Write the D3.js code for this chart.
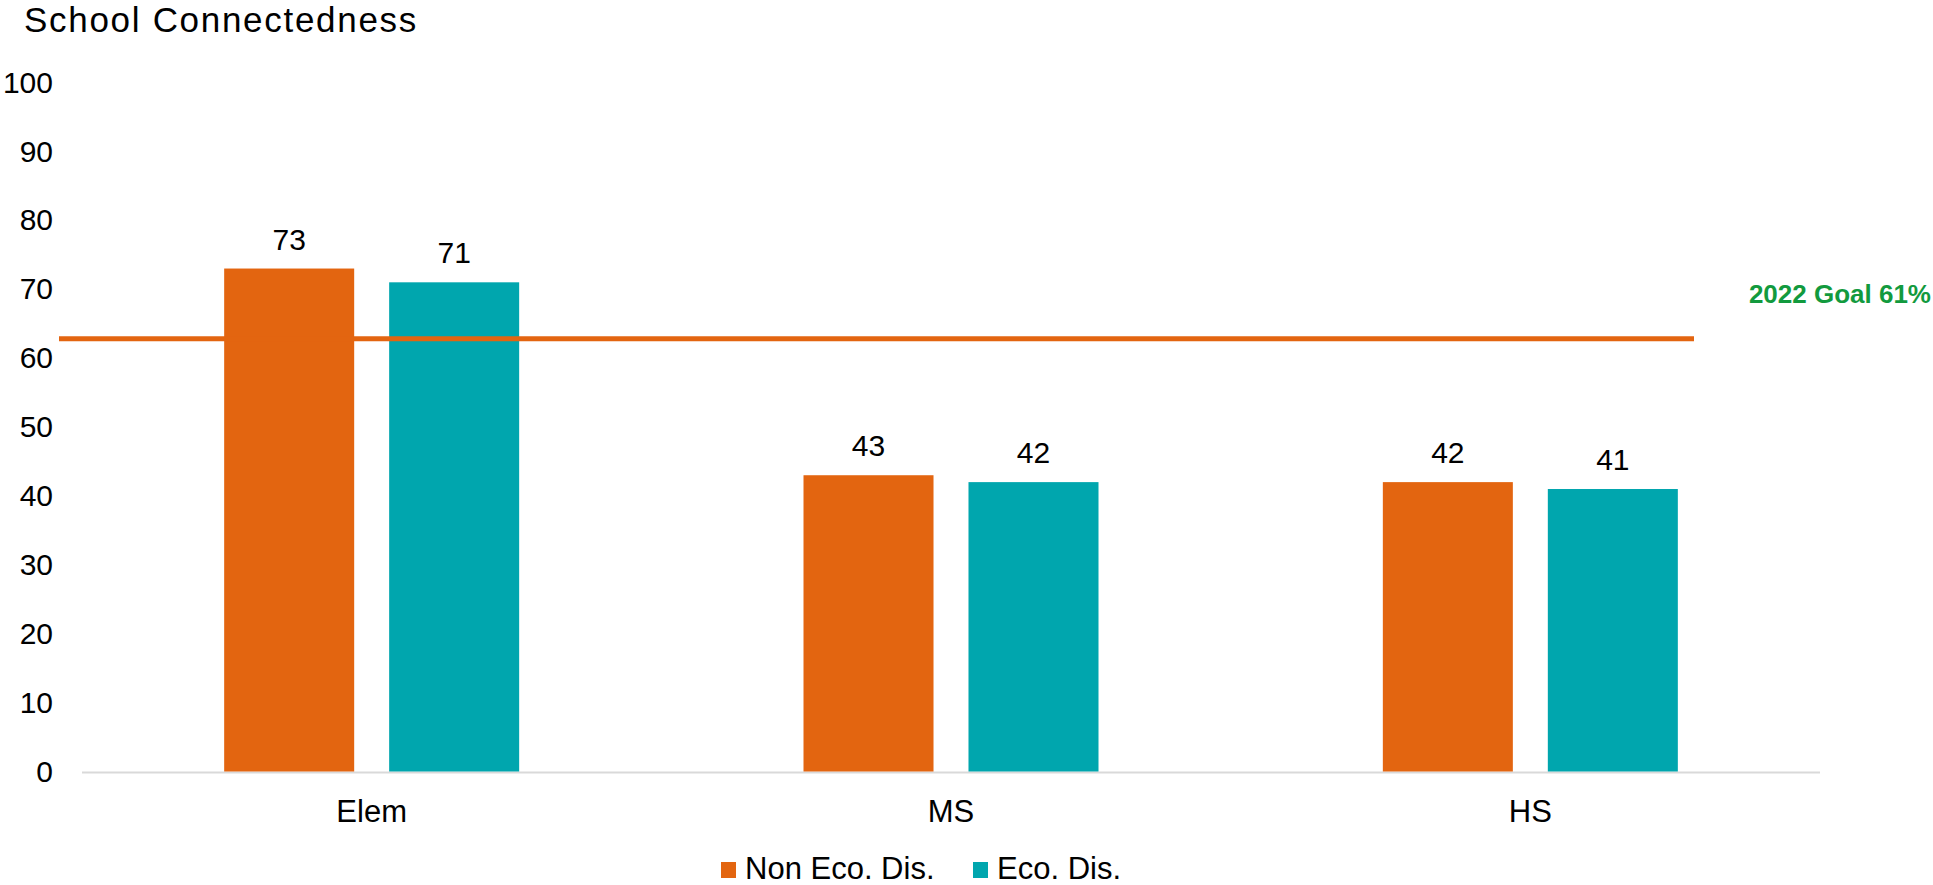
<!DOCTYPE html>
<html>
<head>
<meta charset="utf-8">
<script src="https://cdn.jsdelivr.net/npm/d3@7"></script>
<style>
  html, body { margin: 0; padding: 0; background: #ffffff; }
  svg { display: block; font-family: "Liberation Sans", Arial, sans-serif; }
</style>
</head>
<body>
<svg id="chart" width="1933" height="885"></svg>
<script>
// ---- data ----
const categories = ["Elem", "MS", "HS"];
const seriesNames = ["Non Eco. Dis.", "Eco. Dis."];
const nonEcoDis = [73, 43, 42];
const ecoDis = [71, 42, 41];
const yTicks = [0, 10, 20, 30, 40, 50, 60, 70, 80, 90, 100];
const goalLabel = "2022 Goal 61%";
const goalLineValue = 62.8;
const chartTitle = "School Connectedness";

const seriesValues = [nonEcoDis, ecoDis];
const colors = ["#E36510", "#00A6AE"];

const svg = d3.select("#chart");

const y = d3.scaleLinear().domain([0, 100]).range([771.5, 82.5]);
const x0 = d3.scaleBand().domain(categories).range([82, 1820]).padding(0);
const bw = x0.bandwidth();
const x1 = d3.scaleBand().domain(seriesNames)
  .range([bw * 0.2454, bw * 0.7546]).paddingInner(0.212).paddingOuter(0);

// title
svg.append("text")
  .attr("x", 24).attr("y", 32)
  .attr("font-size", 35)
  .attr("letter-spacing", "1.7px")
  .attr("fill", "#000")
  .text(chartTitle);

// y axis labels
const yAxis = d3.axisLeft(y).tickValues(yTicks).tickSize(0).tickPadding(29);
const gy = svg.append("g").attr("transform", "translate(82,0)").call(yAxis);
gy.select(".domain").remove();
gy.selectAll("text").attr("font-size", 30).attr("fill", "#000")
  .attr("font-family", "'Liberation Sans', Arial, sans-serif");

// baseline
svg.append("line")
  .attr("x1", 82).attr("x2", 1820)
  .attr("y1", y(0) + 1).attr("y2", y(0) + 1)
  .attr("stroke", "#d9d9d9").attr("stroke-width", 2);

// x axis labels
const xAxis = d3.axisBottom(x0).tickSize(0).tickPadding(28);
const gx = svg.append("g").attr("transform", `translate(0,${y(0)})`).call(xAxis);
gx.select(".domain").remove();
gx.selectAll("text").attr("font-size", 31).attr("fill", "#000")
  .attr("font-family", "'Liberation Sans', Arial, sans-serif");

// bars
const rows = categories.map((c, i) => ({
  cat: c,
  vals: seriesNames.map((s, j) => ({ s, j, v: seriesValues[j][i] }))
}));

const groups = svg.append("g").selectAll("g").data(rows).join("g")
  .attr("transform", d => `translate(${x0(d.cat)},0)`);

groups.selectAll("rect").data(d => d.vals).join("rect")
  .attr("x", d => x1(d.s))
  .attr("width", x1.bandwidth())
  .attr("y", d => y(d.v))
  .attr("height", d => y(0) - y(d.v))
  .attr("fill", d => colors[d.j]);

groups.selectAll("text.lbl").data(d => d.vals).join("text")
  .attr("class", "lbl")
  .attr("x", d => x1(d.s) + x1.bandwidth() / 2)
  .attr("y", d => y(d.v) - 19)
  .attr("text-anchor", "middle")
  .attr("font-size", 30)
  .attr("fill", "#000")
  .text(d => d.v);

// goal line
svg.append("line")
  .attr("x1", 59).attr("x2", 1694)
  .attr("y1", y(goalLineValue)).attr("y2", y(goalLineValue))
  .attr("stroke", "#E36510").attr("stroke-width", 5);

svg.append("text")
  .attr("x", 1931).attr("y", 303)
  .attr("text-anchor", "end")
  .attr("font-size", 26)
  .attr("font-weight", "bold")
  .attr("fill", "#129A3E")
  .text(goalLabel);

// legend
const legendX = [721, 973];
const lg = svg.append("g").selectAll("g").data(seriesNames).join("g")
  .attr("transform", (d, i) => `translate(${legendX[i]},0)`);
lg.append("rect")
  .attr("x", 0).attr("y", 862).attr("width", 15).attr("height", 16)
  .attr("fill", (d, i) => colors[i]);
lg.append("text")
  .attr("x", 24).attr("y", 879)
  .attr("font-size", 31)
  .attr("fill", "#000")
  .text(d => d);
</script>
</body>
</html>
